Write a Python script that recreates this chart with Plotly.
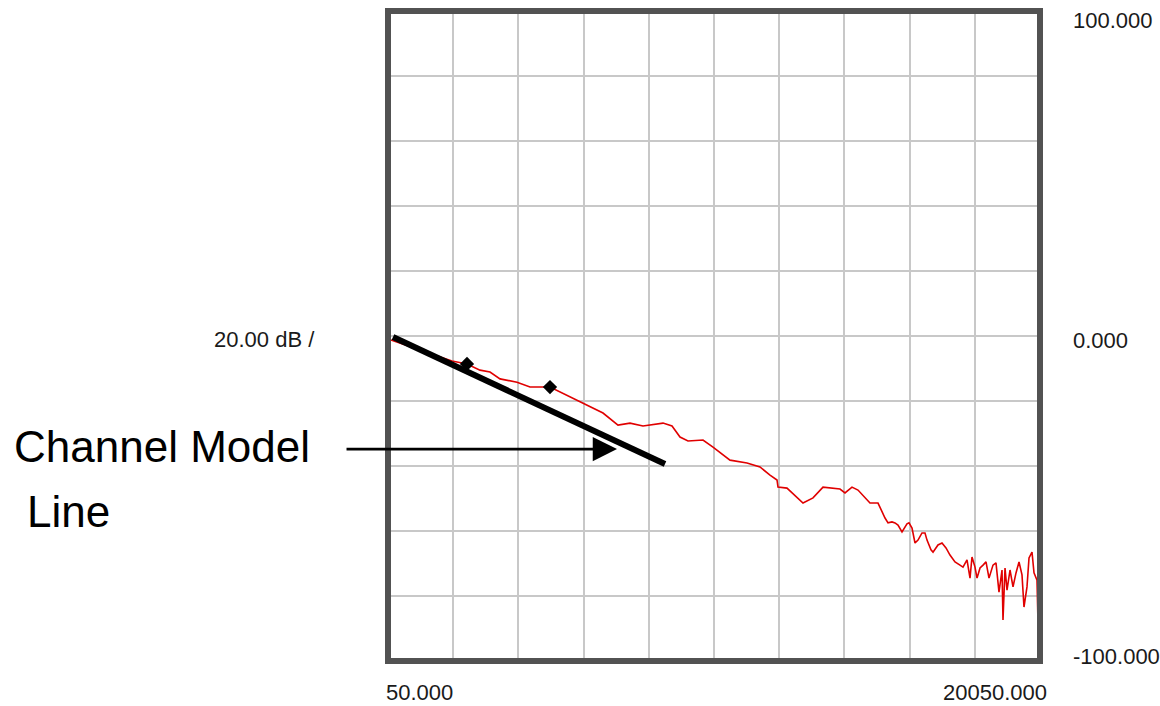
import plotly.graph_objects as go

# ---- data ----
freq_hz = [142, 1032, 2013, 2473, 2872, 3179, 3486, 4007, 4406, 5019, 5633, 6246, 6645, 7105,
           7473, 7872, 8486, 8762, 9007, 9253, 9713, 10019, 10541, 11062, 11461, 11768, 11983,
           12013, 12289, 12780, 13087, 13394, 13915, 14068, 14283, 14467, 14835, 15081, 15203,
           15296, 15388, 15510, 15602, 15694, 15817, 15970, 16032, 16124, 16216, 16308, 16430,
           16522, 16584, 16706, 16768, 16921, 17044, 17167, 17289, 17443, 17596, 17688, 17811,
           17903, 17964, 18056, 18118, 18210, 18302, 18394, 18486, 18608, 18700, 18792, 18885,
           18915, 18977, 19038, 19130, 19222, 19314, 19406, 19498, 19559, 19651, 19713, 19805,
           19866, 19958, 19989]
mag_db = [-1.2, -4.3, -7.7, -8.6, -10.5, -11.1, -13.2, -14.2, -15.7, -15.7, -18.8, -21.8, -23.7,
          -27.4, -26.8, -27.7, -26.8, -27.7, -31.1, -32.3, -32.0, -34.2, -38.2, -39.1, -40.3,
          -42.8, -44.3, -46.5, -46.8, -51.4, -49.8, -46.5, -47.1, -48.3, -46.5, -47.4, -51.4,
          -51.4, -54.2, -56.0, -57.5, -57.2, -57.5, -58.2, -60.3, -57.8, -57.5, -59.1, -63.7,
          -62.8, -60.6, -60.6, -62.8, -65.8, -66.5, -64.3, -63.7, -65.2, -67.4, -69.5, -70.5,
          -71.1, -68.9, -74.5, -68.0, -71.1, -74.5, -71.4, -70.5, -69.5, -74.5, -70.5, -69.8,
          -78.8, -72.0, -87.4, -71.4, -78.2, -72.0, -77.2, -72.9, -69.5, -73.5, -83.4, -77.2,
          -68.3, -66.5, -72.9, -75.1, -88.3]

model_freq = [203, 8547]
model_db = [-0.3, -39.4]

marker_freq = [2473, 5019]
marker_db = [-8.6, -15.7]

arrow_tip = (7075, -34.8)

x_range = [50, 20050]
y_range = [-100, 100]
x_labels = ["50.000", "20050.000"]
y_labels = ["100.000", "0.000", "-100.000"]
scale_label = "20.00 dB /"
callout = ["Channel Model", "Line"]

FONT = "Liberation Sans Narrow, Arial Narrow, Liberation Sans, Arial, sans-serif"

fig = go.Figure()
fig.add_trace(go.Scatter(x=freq_hz, y=mag_db, mode="lines",
                         line=dict(color="#e00000", width=1.6), hoverinfo="skip"))
fig.add_trace(go.Scatter(x=model_freq, y=model_db, mode="lines",
                         line=dict(color="black", width=6), hoverinfo="skip"))
fig.add_trace(go.Scatter(x=marker_freq, y=marker_db, mode="markers",
                         marker=dict(color="black", size=11, symbol="diamond"), hoverinfo="skip"))

fig.update_layout(
    width=1160, height=706,
    margin=dict(l=388, r=120, t=11, b=45),
    paper_bgcolor="white", plot_bgcolor="white",
    showlegend=False,
    xaxis=dict(range=x_range, dtick=2000, tick0=50, showticklabels=False, ticks="",
               showgrid=True, gridcolor="#c8c8c8", gridwidth=2, zeroline=False, showline=False),
    yaxis=dict(range=y_range, dtick=20, showticklabels=False, ticks="",
               showgrid=True, gridcolor="#c8c8c8", gridwidth=2, zeroline=False, showline=False),
)

# frame
fig.add_shape(type="rect", xref="paper", yref="paper", x0=0, x1=1, y0=0, y1=1,
              line=dict(color="#525252", width=6), layer="above")

lab_font = dict(family=FONT, size=22, color="#1a1a1a")
# x labels
fig.add_annotation(x=x_range[0], y=y_range[0], xref="x", yref="y", text=x_labels[0],
                   showarrow=False, xanchor="left", yanchor="middle", xshift=-4, yshift=-31,
                   font=lab_font)
fig.add_annotation(x=x_range[1], y=y_range[0], xref="x", yref="y", text=x_labels[1],
                   showarrow=False, xanchor="right", yanchor="middle", xshift=9, yshift=-31,
                   font=lab_font)
# y labels (right)
for val, lab, ys in zip([100, 0, -100], y_labels, [-9, -4, 5]):
    fig.add_annotation(x=1, y=val, xref="paper", yref="y", text=lab, showarrow=False,
                       xanchor="left", yanchor="middle", xshift=31, yshift=ys, font=lab_font)
# scale label
fig.add_annotation(x=0, y=0, xref="paper", yref="y", text=scale_label, showarrow=False,
                   xanchor="left", yanchor="middle", xshift=-176, yshift=-3, font=lab_font)

# callout text
big_font = dict(family=FONT, size=44, color="black")
fig.add_annotation(x=0, y=0, xref="paper", yref="y", text=callout[0], showarrow=False,
                   xanchor="left", yanchor="middle", xshift=-376, yshift=-110, font=big_font)
fig.add_annotation(x=0, y=0, xref="paper", yref="y", text=callout[1], showarrow=False,
                   xanchor="left", yanchor="middle", xshift=-363, yshift=-175, font=big_font)

# arrow
fig.add_annotation(x=arrow_tip[0], y=arrow_tip[1], xref="x", yref="y", text="",
                   showarrow=True, ax=-272, ay=0, arrowhead=2, arrowsize=1.8,
                   arrowwidth=2.7, arrowcolor="black", standoff=0)

fig.write_html("out.html")
